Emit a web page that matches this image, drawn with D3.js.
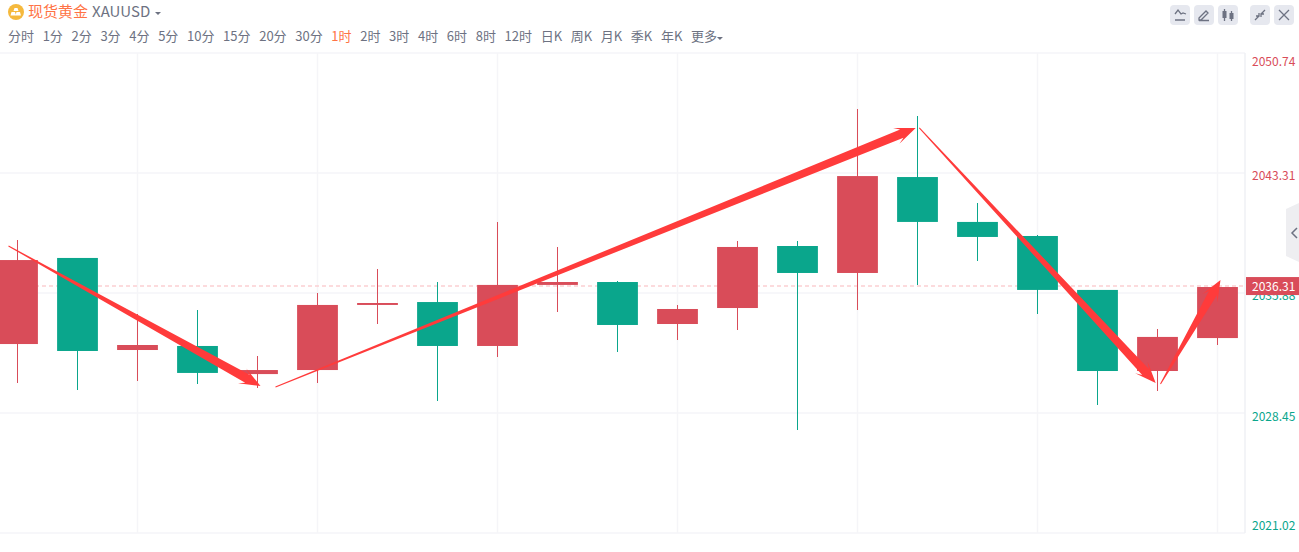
<!DOCTYPE html>
<html>
<head>
<meta charset="utf-8">
<script src="https://cdn.jsdelivr.net/npm/d3@7"></script>
<style>
    html, body { margin: 0; padding: 0; background: #fff; overflow: hidden; }
    text { font-family: "Noto Sans CJK SC", "Noto Sans", sans-serif; }
</style>
</head>
<body>
<svg id="chart" width="1299" height="552"></svg>
<script>
const periods = ["分时", "1分", "2分", "3分", "4分", "5分", "10分", "15分", "20分", "30分", "1时", "2时", "3时", "4时", "6时", "8时", "12时", "日K", "周K", "月K", "季K", "年K", "更多"];
const activePeriod = "1时";

// open, high, low, close per candle
const opens  = [2032.72, 2038.05, 2032.35, 2032.60, 2030.86, 2031.11, 2035.14, 2035.32, 2032.60, 2036.38, 2036.56, 2033.96, 2034.95, 2038.79, 2037.12, 2043.06, 2040.28, 2039.41, 2036.07, 2031.05, 2033.09];
const highs  = [2039.16, 2038.05, 2034.58, 2034.83, 2031.98, 2035.88, 2037.37, 2036.56, 2040.28, 2038.73, 2036.62, 2035.14, 2039.10, 2039.10, 2047.27, 2046.84, 2041.45, 2039.47, 2036.07, 2033.65, 2036.25];
const lows   = [2030.31, 2029.87, 2030.43, 2030.25, 2030.00, 2030.31, 2033.96, 2029.19, 2031.92, 2034.70, 2032.23, 2032.97, 2033.59, 2027.40, 2034.83, 2036.38, 2037.86, 2034.58, 2028.95, 2029.81, 2032.66];
const closes = [2037.92, 2032.29, 2032.66, 2030.93, 2031.11, 2035.14, 2035.26, 2032.60, 2036.38, 2036.56, 2033.90, 2034.89, 2038.73, 2037.12, 2043.12, 2040.28, 2039.35, 2036.07, 2031.05, 2033.16, 2036.25];

const priceTicks = [2050.74, 2043.31, 2035.88, 2028.45, 2021.02];
const lastPrice = 2036.31;

// hand drawn arrows: [candle index, price] from -> to
const arrowStarts = [[-0.15, 2038.79], [4.3, 2030.06], [15.03, 2046.10], [19.05, 2030.25]];
const arrowTips   = [[4.05, 2030.12], [14.97, 2046.10], [18.97, 2030.31], [20.05, 2036.68]];

const redColor = "#d94c59";
const greenColor = "#0aa68c";
const gridColor = "#f5f5f8";
const textColor = "#6d7282";
const orange = "#ff7345";
const arrowColor = "#ff3b3b";

const svg = d3.select("#chart");

const indexes = d3.range(opens.length);
const plotRight = 1245;

const xScale = d3.scaleBand()
    .domain(indexes)
    .range([-12.5, -12.5 + 60 * indexes.length])
    .paddingInner(0.32)
    .paddingOuter(0.16);

const yScale = d3.scaleLinear()
    .domain([2021.02, 2050.74])
    .range([533, 53]);

const center = i => xScale(i) + xScale.bandwidth() / 2;

// same positions as the band centers, but takes fractional indexes
const xArrow = d3.scaleLinear().domain([0, 1]).range([center(0), center(1)]);

// grid
svg.selectAll(".hgrid")
    .data(priceTicks)
    .enter()
    .append("line")
    .attr("class", "hgrid")
    .attr("x1", 0)
    .attr("x2", plotRight)
    .attr("y1", d => yScale(d))
    .attr("y2", d => yScale(d))
    .attr("stroke", gridColor)
    .attr("stroke-width", 1.5);

svg.selectAll(".vgrid")
    .data(indexes.filter(i => i % 3 === 2))
    .enter()
    .append("line")
    .attr("class", "vgrid")
    .attr("x1", d => center(d))
    .attr("x2", d => center(d))
    .attr("y1", 53)
    .attr("y2", 533)
    .attr("stroke", gridColor)
    .attr("stroke-width", 1.5);

svg.append("line")
    .attr("x1", plotRight)
    .attr("x2", plotRight)
    .attr("y1", 53)
    .attr("y2", 533)
    .attr("stroke", "#eff0f4")
    .attr("stroke-width", 1.5);

// last price line
svg.append("line")
    .attr("x1", 0)
    .attr("x2", plotRight)
    .attr("y1", yScale(lastPrice))
    .attr("y2", yScale(lastPrice))
    .attr("stroke", "#fbcfd2")
    .attr("stroke-width", 1.5)
    .attr("stroke-dasharray", "4 3");

// candles
const candleColor = i => closes[i] >= opens[i] ? redColor : greenColor;

svg.selectAll(".wick")
    .data(indexes)
    .enter()
    .append("line")
    .attr("class", "wick")
    .attr("x1", d => center(d))
    .attr("x2", d => center(d))
    .attr("y1", d => yScale(highs[d]))
    .attr("y2", d => yScale(lows[d]))
    .attr("stroke", candleColor)
    .attr("stroke-width", 1)
    .attr("shape-rendering", "crispEdges");

svg.selectAll(".body")
    .data(indexes)
    .enter()
    .append("rect")
    .attr("class", "body")
    .attr("x", d => xScale(d))
    .attr("y", d => yScale(Math.max(opens[d], closes[d])))
    .attr("width", xScale.bandwidth())
    .attr("height", d => Math.abs(yScale(opens[d]) - yScale(closes[d])))
    .attr("fill", candleColor);

// arrows go thin to thick, with a swept head
function arrowShape(i) {
    const x0 = xArrow(arrowStarts[i][0]), y0 = yScale(arrowStarts[i][1]);
    const x1 = xArrow(arrowTips[i][0]), y1 = yScale(arrowTips[i][1]);
    const len = Math.hypot(x1 - x0, y1 - y0);
    const ux = (x1 - x0) / len, uy = (y1 - y0) / len;
    const nx = -uy, ny = ux;
    const headLen = 21, neckBack = 15, neck = 4.5, wing = 8.5;
    const at = (along, side) => [x0 + ux * along + nx * side, y0 + uy * along + ny * side];
    return [
        at(0, -0.5),
        at(len - neckBack, -neck),
        at(len - headLen, -wing),
        at(len, 0),
        at(len - headLen, wing),
        at(len - neckBack, neck),
        at(0, 0.5)
    ];
}

svg.selectAll(".arrow")
    .data(arrowStarts.map((d, i) => i))
    .enter()
    .append("path")
    .attr("class", "arrow")
    .attr("d", d => d3.line()(arrowShape(d)) + "Z")
    .attr("fill", arrowColor);

// price axis labels
const labelOffset = [13, 7, 7, 8, -3];

svg.selectAll(".price")
    .data(priceTicks)
    .enter()
    .append("text")
    .attr("class", "price")
    .attr("x", 1252)
    .attr("y", (d, i) => yScale(d) + labelOffset[i])
    .attr("font-size", 12)
    .attr("fill", d => d > lastPrice ? redColor : greenColor)
    .text(d => d.toFixed(2));

svg.append("rect")
    .attr("x", 1246)
    .attr("y", yScale(lastPrice) - 9)
    .attr("width", 53)
    .attr("height", 18)
    .attr("fill", redColor);

svg.append("text")
    .attr("x", 1252)
    .attr("y", yScale(lastPrice) + 4.5)
    .attr("font-size", 12)
    .attr("fill", "#fff")
    .text(lastPrice.toFixed(2));

// collapse handle at the right edge
svg.append("path")
    .attr("d", "M1299,203L1286,209V256L1299,262Z")
    .attr("fill", "#eeeef1");
svg.append("path")
    .attr("d", "M1297,228L1292,233L1297,238")
    .attr("fill", "none")
    .attr("stroke", textColor)
    .attr("stroke-width", 1.5);

// header
svg.append("circle").attr("cx", 16).attr("cy", 12).attr("r", 8).attr("fill", "#f5b93d");
svg.append("path")
    .attr("d", "M14.5,8h3l1,3h-5ZM11.5,12h3.5l1,3.5h-5.5ZM16.5,12h3.5l1,3.5h-5.5Z")
    .attr("fill", "#fff");

svg.append("text")
    .attr("x", 28)
    .attr("y", 17)
    .attr("font-size", 15)
    .attr("fill", orange)
    .text("现货黄金");

svg.append("text")
    .attr("x", 92)
    .attr("y", 17)
    .attr("font-size", 15)
    .attr("fill", textColor)
    .text("XAUUSD");

svg.append("path").attr("d", "M155,12h6l-3,3Z").attr("fill", textColor);

// period tabs, laid out one after the other
let tabX = 8;
periods.forEach(p => {
    const t = svg.append("text")
        .attr("x", tabX)
        .attr("y", 41)
        .attr("font-size", 13)
        .attr("fill", p === activePeriod ? orange : textColor)
        .text(p);
    tabX += t.node().getComputedTextLength() + 8.65;
});
svg.append("path").attr("d", `M${tabX - 8.65},37h6l-3,3Z`).attr("fill", textColor);

// toolbar buttons
const buttonXs = [1170, 1194, 1218, 1250, 1274];
const buttonIcons = [
    "M5,9l3,-4l3,4l2,-1l3,1M5,15h10",
    "M5,13l7,-7l2,2l-7,7h-2ZM5,15.5h10",
    "M6.5,4v12M13.5,6v10",
    "M5,15l4,-4M11,9l4,-4M9,8v3h-3M11,12v-3h3",
    "M5,5l10,10M15,5l-10,10"
];

const buttons = svg.selectAll(".button")
    .data(buttonXs)
    .enter()
    .append("g")
    .attr("class", "button")
    .attr("transform", d => `translate(${d},5)`);

buttons.append("rect")
    .attr("width", 20)
    .attr("height", 20)
    .attr("rx", 4)
    .attr("fill", "#e6e8ef");

buttons.append("path")
    .attr("d", (d, i) => buttonIcons[i])
    .attr("fill", "none")
    .attr("stroke", textColor)
    .attr("stroke-width", 1.3);

buttons.filter((d, i) => i === 2).append("rect")
    .attr("x", 4.5).attr("y", 6).attr("width", 4).attr("height", 7).attr("fill", textColor);
buttons.filter((d, i) => i === 2).append("rect")
    .attr("x", 11.5).attr("y", 8).attr("width", 4).attr("height", 6).attr("fill", textColor);
</script>
</body>
</html>
